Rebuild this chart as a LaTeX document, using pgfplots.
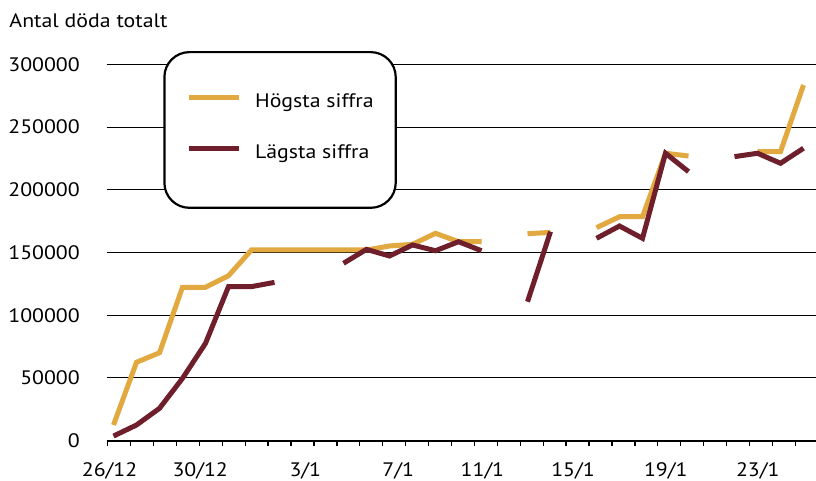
\documentclass[border=0pt]{standalone}
\usepackage{fontspec}
\setmainfont{PT Sans}[FakeStretch=1.12]
\usepackage{pgfplots}
\pgfplotsset{compat=1.18}
\definecolor{hogst}{RGB}{226,169,64}
\definecolor{lagst}{RGB}{111,31,43}

\begin{document}
\fontsize{19.5bp}{23bp}\selectfont
\begin{tikzpicture}
\begin{axis}[
    scale only axis,
    width=709.3bp, height=376.4bp,
    xmin=-0.2957, xmax=30.543,
    ymin=0, ymax=300000,
    axis x line=bottom, axis y line=left,
    x axis line style={-, line width=2.2bp, black},
    y axis line style={draw=none},
    ymajorgrids,
    major grid style={black, line width=1bp},
    ytick={0,50000,...,300000},
    ytick style={draw=none},
    scaled y ticks=false,
    yticklabel style={/pgf/number format/fixed, /pgf/number format/1000 sep={},
        anchor=east, inner sep=0pt, xshift=-26.7bp},
    /pgf/number format/assume math mode=true,
    xtick={-0.17,3.77,8.34,12.38,16.04,19.98,24.01,28.01},
    xticklabels={26/12,30/12,3/1,7/1,11/1,15/1,19/1,23/1},
    xticklabel style={anchor=base, inner sep=0pt, yshift=-35.8bp},
    major tick length=0pt,
    minor xtick={-0.252,0.7445,...,29.7},
    minor tick length=5.7bp,
    tick align=outside,
    minor x tick style={black, line width=1.3bp},
    unbounded coords=jump,
    legend cell align=left,
    legend image code/.code={\draw[#1, line width=5bp] (0bp,7bp) -- (50bp,7bp);},
    legend style={at={(0.0798,1.0353)}, anchor=north west,
        draw=black, line width=2.2bp, rounded corners=25bp, fill=white,
        inner xsep=22bp, inner ysep=41.3bp, row sep=29.7bp, column sep=13.7bp,
        nodes={inner sep=0pt, text height=14bp, text depth=7.7bp}},
]
\coordinate (ll) at (rel axis cs:0,0);

% Högsta siffra
\addplot[hogst, line width=5bp] coordinates {
    (0,12500) (1,62500) (2,70100) (3,122300) (4,122300) (5,131500)
    (6,152000) (7,152000) (8,152000) (9,152000) (10,152000) (11,152000)
    (12,155200) (13,156500) (14,165300) (15,158600) (16,158600)
    (17,nan) (18,165000) (19,166000) (20,nan)
    (21,169800) (22,178500) (23,178500) (24,229100) (25,226900)
    (26,nan) (27,nan) (28,230400) (29,230400) (30,283500)
};
\addlegendentry{Högsta siffra}

% Lägsta siffra
\addplot[lagst, line width=5bp] coordinates {
    (0,3700) (1,12500) (2,25800) (3,49700) (4,77600) (5,122800)
    (6,122800) (7,126200) (8,nan) (9,nan)
    (10,141400) (11,152500) (12,147200) (13,156000) (14,151400)
    (15,158600) (16,151400) (17,nan) (18,110800) (19,166600) (20,nan)
    (21,161300) (22,171100) (23,161300) (24,229100) (25,214400)
    (26,nan) (27,226400) (28,229100) (29,221100) (30,233100)
};
\addlegendentry{Lägsta siffra}
\end{axis}
\node[anchor=base west, inner sep=0pt] at ([shift={(-97.4bp,413bp)}]ll) {Antal döda totalt};
\pgfresetboundingbox
\path[use as bounding box] ([shift={(-106.7bp,-40.3bp)}]ll) rectangle ++(816bp,481bp);
\end{tikzpicture}
\end{document}
